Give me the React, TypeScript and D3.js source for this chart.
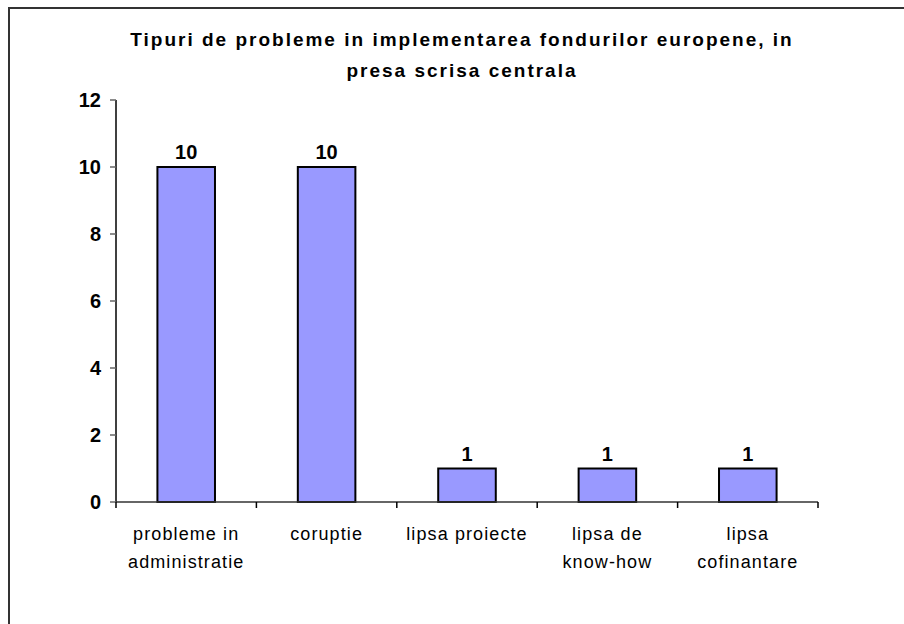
import React from "react";
import * as d3 from "d3";

const categories: string[][] = [
  ["probleme in", "administratie"],
  ["coruptie"],
  ["lipsa proiecte"],
  ["lipsa de", "know-how"],
  ["lipsa", "cofinantare"],
];
const values: number[] = [10, 10, 1, 1, 1];
const yTicks: number[] = [0, 2, 4, 6, 8, 10, 12];
const titleLines: string[] = [
  "Tipuri de probleme in implementarea fondurilor europene, in",
  "presa scrisa centrala",
];

const FONT = "Arial, 'Liberation Sans', sans-serif";

export default function App() {
  const left = 116;
  const right = 818;
  const top = 100;
  const bottom = 502;

  const x = d3
    .scaleBand<number>()
    .domain(d3.range(values.length))
    .range([left, right])
    .padding(0);
  const y = d3.scaleLinear().domain([0, 12]).range([bottom, top]);
  const barW = x.bandwidth() * 0.41;

  return (
    <svg
      width={904}
      height={624}
      style={{ position: "absolute", left: 0, top: 0, background: "#fff" }}
    >
      <rect x={9} y={8} width={920} height={640} fill="#fff" stroke="#333" strokeWidth={2} />

      {/* title */}
      {titleLines.map((t, i) => (
        <text
          key={i}
          x={462}
          y={46 + i * 31}
          textAnchor="middle"
          fontFamily={FONT}
          fontWeight="bold"
          fontSize={19}
          letterSpacing={2}
        >
          {t}
        </text>
      ))}

      {/* bars */}
      {values.map((v, i) => {
        const cx = (x(i) as number) + x.bandwidth() / 2;
        return (
          <g key={i}>
            <rect
              x={cx - barW / 2}
              y={y(v)}
              width={barW}
              height={y(0) - y(v)}
              fill="#9999FF"
              stroke="#000"
              strokeWidth={2}
            />
            <text
              x={cx}
              y={y(v) - 8}
              textAnchor="middle"
              fontFamily={FONT}
              fontWeight="bold"
              fontSize={20}
            >
              {v}
            </text>
          </g>
        );
      })}

      {/* y axis */}
      <line x1={left} x2={left} y1={top} y2={bottom} stroke="#000" strokeWidth={1.5} />
      {yTicks.map((t) => (
        <g key={t}>
          <line x1={left - 6} x2={left} y1={y(t)} y2={y(t)} stroke="#666" strokeWidth={1.5} />
          <text
            x={101}
            y={y(t) + 7}
            textAnchor="end"
            fontFamily={FONT}
            fontWeight="bold"
            fontSize={20}
          >
            {t}
          </text>
        </g>
      ))}

      {/* x axis */}
      <line x1={left} x2={right} y1={bottom} y2={bottom} stroke="#333" strokeWidth={1.5} />
      {d3.range(values.length + 1).map((i) => {
        const xx = i < values.length ? (x(i) as number) : right;
        return (
          <line key={i} x1={xx} x2={xx} y1={bottom} y2={bottom + 6} stroke="#000" strokeWidth={1.5} />
        );
      })}
      {categories.map((lines, i) => {
        const cx = (x(i) as number) + x.bandwidth() / 2;
        return (
          <text
            key={i}
            textAnchor="middle"
            fontFamily={FONT}
            fontSize={18}
            letterSpacing={1.1}
          >
            {lines.map((l, j) => (
              <tspan key={j} x={cx} y={540 + j * 28}>
                {l}
              </tspan>
            ))}
          </text>
        );
      })}
    </svg>
  );
}
